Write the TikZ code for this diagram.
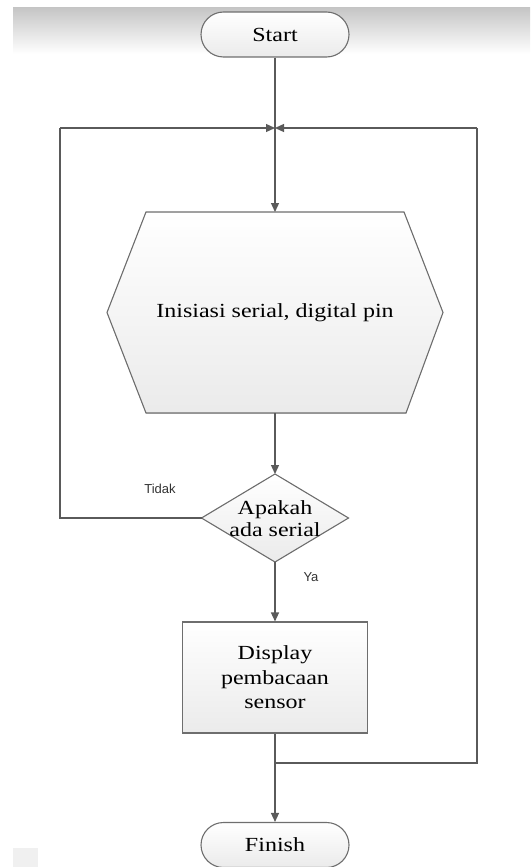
\documentclass[tikz,border=0pt]{standalone}
\usepackage{fontspec}
\setmainfont{Liberation Serif}[FakeStretch=1.2]
\newfontfamily\labelfont{Liberation Sans}
\usetikzlibrary{arrows.meta,shapes.misc}
\definecolor{linegray}{HTML}{5A5A5A}
\definecolor{edgegray}{HTML}{6E6E6E}
\tikzset{
  shapebox/.style={draw=edgegray, line width=1.1pt, top color=white, bottom color=gray!16},
  terminal/.style={shapebox, rounded rectangle, minimum width=148pt, minimum height=45pt, inner sep=0pt, font=\fontsize{20}{24}\selectfont},
  procbox/.style={shapebox, rectangle, minimum width=185pt, minimum height=111pt, align=center, font=\fontsize{20}{24.5}\selectfont},
  ghost/.style={inner sep=0pt, outer sep=0pt},
  txt/.style={align=center, font=\fontsize{20}{22}\selectfont},
  conn/.style={draw=linegray, line width=1.3pt},
  arr/.style={conn, -{Triangle[length=9pt,width=8pt]}},
  lbl/.style={font=\labelfont\fontsize{13}{15}\selectfont, text=black!80}
}
\begin{document}
\begin{tikzpicture}[x=1pt,y=-1pt]
\useasboundingbox (0,0) rectangle (530,867);
% top shadow band
\shade[top color=gray!45, bottom color=white] (13,8) rectangle (530,54);
% small grey square bottom-left
\fill[gray!12] (13,848) rectangle (38,867);

\node[terminal] (start) at (275,34.5) {Start};

% hexagon
\node[ghost, minimum width=336pt, minimum height=201pt] (init) at (275,312.5) {};
\filldraw[shapebox] ([xshift=-129pt]init.north) -- ([xshift=129pt]init.north) -- (init.east)
  -- ([xshift=131pt]init.south) -- ([xshift=-129pt]init.south) -- (init.west) -- cycle;
\node[txt] (inittxt) at (init) {Inisiasi serial, digital pin};

% decision
\node[ghost, minimum width=147pt, minimum height=88pt] (dec) at (275,518) {};
\filldraw[shapebox] (dec.north) -- (dec.east) -- (dec.south) -- (dec.west) -- cycle;
\node[txt] (dectxt) at ([yshift=-1pt]dec.center) {Apakah\\ada serial};

\node[procbox] (disp) at (275,677.5) {Display\\pembacaan\\sensor};

\node[terminal] (fin) at (275,845) {Finish};

\coordinate (junc) at (275,128);
\coordinate (lc) at (60,518);
\coordinate (lt) at (60,128);
\coordinate (merge) at (275,763);
\coordinate (rb) at (477,763);
\coordinate (rt) at (477,128);

\draw[conn] (start.south) -- (junc);
\draw[arr] (junc) -- (init.north);
\draw[arr] (init.south) -- (dec.north);
\draw[conn] (dec.west) -- (lc) -- (lt);
\draw[arr] (lt) -- (junc);
\draw[arr] (dec.south) -- (disp.north);
\draw[arr] (disp.south) -- (fin.north);
\draw[conn] (merge) -- (rb) -- (rt);
\draw[arr] (rt) -- (junc);

\node[lbl] (tidak) at (160,489) {Tidak};
\node[lbl] (ya) at (311,577) {Ya};
\end{tikzpicture}
\end{document}
